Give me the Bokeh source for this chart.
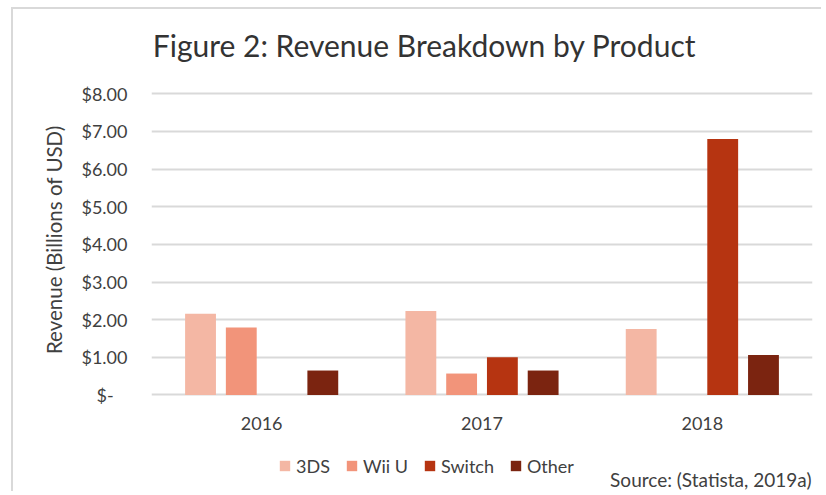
from bokeh.plotting import figure
from bokeh.models import FactorRange, Range1d, FixedTicker, Label, Legend, LegendItem, ColumnDataSource
from bokeh.transform import dodge
from bokeh.embed import file_html
from bokeh.resources import INLINE

# ---- data ----
years = ["2016", "2017", "2018"]
products = ["3DS", "Wii U", "Switch", "Other"]
rev_3ds = [2.16, 2.23, 1.75]
rev_wiiu = [1.79, 0.57, 0.0]
rev_switch = [0.0, 1.00, 6.80]
rev_other = [0.65, 0.65, 1.06]
tick_values = [0, 1, 2, 3, 4, 5, 6, 7, 8]
tick_labels = ["$-\u00a0\u00a0\u00a0", "$1.00", "$2.00", "$3.00", "$4.00",
               "$5.00", "$6.00", "$7.00", "$8.00"]
title_text = "Figure 2: Revenue Breakdown by Product"
y_title = "Revenue (Billions of USD)"
source_text = "Source: (Statista, 2019a)"

colors = ["#F4B7A4", "#F2947A", "#B63411", "#7B2410"]
FONT = "Lato"
TXT = "#404040"

src = ColumnDataSource(dict(year=years, s3ds=rev_3ds, wiiu=rev_wiiu,
                            switch=rev_switch, other=rev_other))

p = figure(x_range=FactorRange(*years, range_padding=0),
           y_range=Range1d(-2.563, 9.973),
           width=810, height=484, output_backend="svg", toolbar_location=None,
           min_border_left=138, min_border_right=11, min_border_top=10,
           min_border_bottom=2, outline_line_color=None, title=None)
p.styles = {"border-top": "2px solid #d9d9d9", "border-left": "2px solid #d9d9d9",
            "margin-left": "11px", "margin-top": "7px"}

step = 0.185
offsets = [-1.5 * step, -0.5 * step, 0.5 * step, 1.5 * step]
fields = ["s3ds", "wiiu", "switch", "other"]
renderers = []
for f, off, c in zip(fields, offsets, colors):
    r = p.vbar(x=dodge("year", off, range=p.x_range), top=f, width=0.14,
               source=src, fill_color=c, line_color=None)
    renderers.append(r)

# grid
p.xgrid.grid_line_color = None
p.ygrid.grid_line_color = "#d9d9d9"
p.ygrid.grid_line_width = 2
p.yaxis.ticker = FixedTicker(ticks=tick_values)
p.yaxis.major_label_overrides = {v: l for v, l in zip(tick_values, tick_labels)}
p.xaxis.fixed_location = 0

for ax in (p.xaxis, p.yaxis):
    ax.axis_line_color = None
    ax.major_tick_line_color = None
    ax.minor_tick_line_color = None
    ax.major_label_text_font = FONT
    ax.major_label_text_font_size = "18px"
    ax.major_label_text_color = TXT
p.yaxis.major_label_standoff = 18
p.xaxis.major_label_standoff = 16
# leading no-break spaces lift the rotated title to centre it on the gridded area
p.yaxis.axis_label = "\u00a0" * 6 + y_title
p.yaxis.axis_label_text_font = FONT
p.yaxis.axis_label_text_font_size = "20.5px"
p.yaxis.axis_label_text_font_style = "normal"
p.yaxis.axis_label_text_color = TXT
p.yaxis.axis_label_standoff = 12

p.add_layout(Label(x=1.239, y=9.283, text=title_text, text_align="center",
                   text_baseline="middle", text_font=FONT, text_font_size="30px",
                   text_color="#333333"))
p.add_layout(Label(x=2.9955, y=-2.235, text=source_text, text_align="right",
                   text_baseline="middle", text_font=FONT, text_font_size="19px",
                   text_color=TXT))

legend = Legend(items=[LegendItem(label=n, renderers=[r]) for n, r in zip(products, renderers)],
                orientation="horizontal", location=(127, 14.5),
                glyph_width=13, glyph_height=13, label_height=13, label_standoff=5,
                spacing=15, padding=0, margin=0, border_line_color=None,
                background_fill_alpha=0, label_text_font=FONT,
                label_text_font_size="18px", label_text_color=TXT)
p.add_layout(legend, "center")

open("out.html", "w").write(file_html(p, INLINE))
